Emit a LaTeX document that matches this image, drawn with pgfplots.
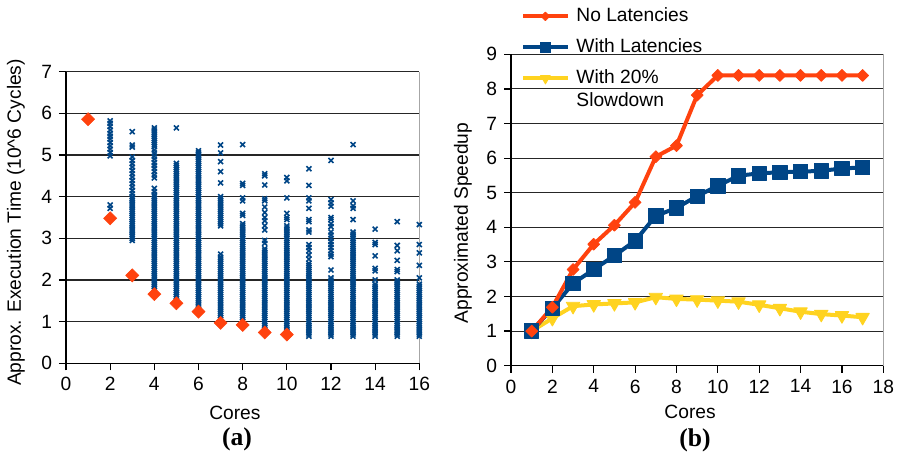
\documentclass[border=0pt]{standalone}
\usepackage{pgfplots}
\pgfplotsset{compat=1.18}
\usepackage{fontspec}
\setmainfont{Liberation Sans}
\newfontfamily\serifbf{Liberation Serif}
\definecolor{cOrange}{HTML}{FF420E}
\definecolor{cBlue}{HTML}{004586}
\definecolor{cYellow}{HTML}{FFD320}
\pgfplotsset{
  mystyle/.style={
    scale only axis,
    anchor=south west,
    font=\fontsize{9.6}{11}\selectfont,
    /pgf/number format/assume math mode=true,
    axis lines*=left,
    axis line style={black, line width=0.6pt, -},
    tick align=outside,
    major tick length=3.5pt,
    tick style={black, line width=0.6pt},
    xtick pos=bottom, ytick pos=left,
    ymajorgrids,
    major grid style={black!85, line width=0.55pt},
    extra x tick labels={},
    extra x tick style={xmajorgrids=true, major tick length=0pt, major grid style={black!35, line width=0.6pt}},
  },
  scat/.style={only marks, mark=x, mark size=1.75pt, color=cBlue, mark options={line width=0.8pt}},
}
\begin{document}
\begin{tikzpicture}
\path[use as bounding box] (0,0) rectangle (450pt,226.5pt);
\begin{axis}[mystyle, at={(33pt,44.85pt)}, width=176.65pt, height=145.8pt,
  xmin=0, xmax=16, ymin=0, ymax=7, xtick={0,2,...,16}, ytick={0,...,7}, extra x ticks={16},
  xlabel={Cores}, ylabel={Approx. Execution Time (10\textasciicircum 6 Cycles)},
  xlabel style={at={(axis description cs:0.478,0)}, anchor=center, yshift=-24.85pt},
  ylabel style={at={(axis description cs:-0.142,0.483)}, anchor=center}]
\addplot[scat] coordinates {(2,5.82)(2,5.76)(2,5.68)(2,5.6)(2,5.52)(2,5.45)(2,5.38)(2,5.3)(2,5.22)(2,5.14)(2,5.06)(2,4.98)(2,3.8)(2,3.72)};
\addplot[scat] coordinates {(3,5.56)(3,5.24)(3,5.19)(3,4.95)(3,4.87)(3,4.79)(3,4.71)(3,4.63)(3,4.55)(3,4.47)(3,4.39)(3,4.31)(3,4.23)(3,4.15)(3,4.07)(3,4.0)
(3,3.95)(3,3.90)(3,3.85)(3,3.80)(3,3.75)(3,3.70)(3,3.65)(3,3.60)(3,3.55)(3,3.50)(3,3.45)(3,3.40)(3,3.35)(3,3.30)(3,3.25)(3,3.20)(3,3.15)(3,3.10)(3,3.05)(3,3.00)(3,2.95)};
\addplot[scat] coordinates {(4,5.65)(4,5.6)(4,5.55)(4,5.5)(4,5.45)(4,5.4)(4,5.35)(4,5.3)(4,5.25)(4,5.2)(4,5.12)(4,5.05)(4,4.97)(4,4.9)(4,4.82)(4,4.75)(4,4.68)(4,4.6)(4,4.52)(4,4.45)(4,4.2)(4,4.12)
(4,4.05)(4,4.00)(4,3.95)(4,3.90)(4,3.85)(4,3.80)(4,3.75)(4,3.70)(4,3.65)(4,3.60)(4,3.55)(4,3.50)(4,3.45)(4,3.40)(4,3.35)(4,3.30)(4,3.25)(4,3.20)(4,3.15)(4,3.10)(4,3.05)(4,3.00)(4,2.95)(4,2.90)(4,2.85)(4,2.80)(4,2.75)(4,2.70)(4,2.65)(4,2.60)(4,2.55)(4,2.50)(4,2.45)(4,2.40)(4,2.35)(4,2.30)(4,2.25)(4,2.20)(4,2.15)(4,2.10)(4,2.05)(4,2.00)(4,1.95)(4,1.90)(4,1.85)(4,1.80)(4,1.75)};
\addplot[scat] coordinates {(5,5.65)
(5,4.80)(5,4.75)(5,4.70)(5,4.65)(5,4.60)(5,4.55)(5,4.50)(5,4.45)(5,4.40)(5,4.35)(5,4.30)(5,4.25)(5,4.20)(5,4.15)(5,4.10)(5,4.05)(5,4.00)(5,3.95)(5,3.90)(5,3.85)(5,3.80)(5,3.75)(5,3.70)(5,3.65)(5,3.60)(5,3.55)(5,3.50)(5,3.45)(5,3.40)(5,3.35)(5,3.30)(5,3.25)(5,3.20)(5,3.15)(5,3.10)(5,3.05)(5,3.00)(5,2.95)(5,2.90)(5,2.85)(5,2.80)(5,2.75)(5,2.70)(5,2.65)(5,2.60)(5,2.55)(5,2.50)(5,2.45)(5,2.40)(5,2.35)(5,2.30)(5,2.25)(5,2.20)(5,2.15)(5,2.10)(5,2.05)(5,2.00)(5,1.95)(5,1.90)(5,1.85)(5,1.80)(5,1.75)(5,1.70)(5,1.65)(5,1.60)(5,1.55)(5,1.50)};
\addplot[scat] coordinates {(6,5.10)(6,5.05)(6,5.00)(6,4.95)(6,4.90)(6,4.85)(6,4.80)(6,4.75)(6,4.70)(6,4.65)(6,4.60)(6,4.55)(6,4.50)(6,4.45)(6,4.40)(6,4.35)(6,4.30)(6,4.25)(6,4.20)(6,4.15)(6,4.10)(6,4.05)(6,4.00)(6,3.95)(6,3.90)(6,3.85)(6,3.80)(6,3.75)(6,3.70)(6,3.65)(6,3.60)(6,3.55)(6,3.50)(6,3.45)(6,3.40)(6,3.35)(6,3.30)(6,3.25)(6,3.20)(6,3.15)(6,3.10)(6,3.05)(6,3.00)(6,2.95)(6,2.90)(6,2.85)(6,2.80)(6,2.75)(6,2.70)(6,2.65)(6,2.60)(6,2.55)(6,2.50)(6,2.45)(6,2.40)(6,2.35)(6,2.30)(6,2.25)(6,2.20)(6,2.15)(6,2.10)(6,2.05)(6,2.00)(6,1.95)(6,1.90)(6,1.85)(6,1.80)(6,1.75)(6,1.70)(6,1.65)(6,1.60)(6,1.55)(6,1.50)(6,1.45)(6,1.40)(6,1.35)(6,1.30)(6,1.25)};
\addplot[scat] coordinates {(7,5.24)(7,5.05)(7,4.84)(7,4.6)(7,4.33)
(7,4.00)(7,3.95)(7,3.90)(7,3.85)(7,3.80)(7,3.75)(7,3.70)(7,3.65)(7,3.60)(7,3.55)(7,3.50)(7,3.45)(7,3.40)(7,3.35)(7,3.30)(7,2.62)
(7,2.55)(7,2.50)(7,2.45)(7,2.40)(7,2.35)(7,2.30)(7,2.25)(7,2.20)(7,2.15)(7,2.10)(7,2.05)(7,2.00)(7,1.95)(7,1.90)(7,1.85)(7,1.80)(7,1.75)(7,1.70)(7,1.65)(7,1.60)(7,1.55)(7,1.50)(7,1.45)(7,1.40)(7,1.35)(7,1.30)(7,1.25)(7,1.20)(7,1.15)(7,1.10)(7,1.05)(7,1.00)};
\addplot[scat] coordinates {(8,5.25)(8,4.32)(8,4.27)(8,3.97)(8,3.9)(8,3.6)(8,3.55)
(8,3.35)(8,3.30)(8,3.25)(8,3.20)(8,3.15)(8,3.10)(8,3.05)(8,3.00)(8,2.95)(8,2.90)(8,2.85)(8,2.80)(8,2.75)(8,2.70)(8,2.65)(8,2.60)(8,2.55)(8,2.50)(8,2.45)(8,2.40)(8,2.35)(8,2.30)(8,2.25)(8,2.20)(8,2.15)(8,2.10)(8,2.05)(8,2.00)(8,1.95)(8,1.90)(8,1.85)(8,1.80)(8,1.75)(8,1.70)(8,1.65)(8,1.60)(8,1.55)(8,1.50)(8,1.45)(8,1.40)(8,1.35)(8,1.30)(8,1.25)(8,1.20)(8,1.15)(8,1.10)(8,1.05)(8,1.00)(8,0.95)};
\addplot[scat] coordinates {(9,4.55)(9,4.5)(9,4.28)(9,3.95)(9,3.9)(9,3.75)(9,3.62)(9,3.5)(9,3.42)(9,3.3)(9,3.2)(9,2.95)(9,2.88)
(9,2.75)(9,2.70)(9,2.65)(9,2.60)(9,2.55)(9,2.50)(9,2.45)(9,2.40)(9,2.35)(9,2.30)(9,2.25)(9,2.20)(9,2.15)(9,2.10)(9,2.05)(9,2.00)(9,1.95)(9,1.90)(9,1.85)(9,1.80)(9,1.75)(9,1.70)(9,1.65)(9,1.60)(9,1.55)(9,1.50)(9,1.45)(9,1.40)(9,1.35)(9,1.30)(9,1.25)(9,1.20)(9,1.15)(9,1.10)(9,1.05)(9,1.00)(9,0.95)(9,0.90)(9,0.85)(9,0.80)};
\addplot[scat] coordinates {(10,4.46)(10,4.38)(10,3.97)(10,3.6)(10,3.5)(10,3.45)
(10,3.30)(10,3.25)(10,3.20)(10,3.15)(10,3.10)(10,3.05)(10,3.00)(10,2.95)(10,2.90)(10,2.85)(10,2.80)(10,2.75)(10,2.70)(10,2.65)(10,2.60)(10,2.55)(10,2.50)(10,2.45)(10,2.40)(10,2.35)(10,2.30)(10,2.25)(10,2.20)(10,2.15)(10,2.10)(10,2.05)(10,2.00)(10,1.95)(10,1.90)(10,1.85)(10,1.80)(10,1.75)(10,1.70)(10,1.65)(10,1.60)(10,1.55)(10,1.50)(10,1.45)(10,1.40)(10,1.35)(10,1.30)(10,1.25)(10,1.20)(10,1.15)(10,1.10)(10,1.05)(10,1.00)(10,0.95)(10,0.90)(10,0.85)(10,0.80)(10,0.75)};
\addplot[scat] coordinates {(11,4.67)(11,4.27)(11,3.97)(11,3.9)(11,3.72)(11,3.45)(11,3.4)(11,3.2)(11,3.15)(11,2.85)(11,2.78)(11,2.7)(11,2.6)(11,2.5)
(11,2.40)(11,2.35)(11,2.30)(11,2.25)(11,2.20)(11,2.15)(11,2.10)(11,2.05)(11,2.00)(11,1.95)(11,1.90)(11,1.85)(11,1.80)(11,1.75)(11,1.70)(11,1.65)(11,1.60)(11,1.55)(11,1.50)(11,1.45)(11,1.40)(11,1.35)(11,1.30)(11,1.25)(11,1.20)(11,1.15)(11,1.10)(11,1.05)(11,1.00)(11,0.95)(11,0.90)(11,0.85)(11,0.80)(11,0.75)(11,0.70)(11,0.65)};
\addplot[scat] coordinates {(12,4.87)(12,3.93)(12,3.85)(12,3.77)(12,3.5)(12,3.45)(12,3.35)(12,3.28)(12,3.15)(12,3.08)(12,3.0)(12,2.92)(12,2.85)(12,2.78)(12,2.7)(12,2.62)(12,2.56)(12,2.24)
(12,2.05)(12,2.00)(12,1.95)(12,1.90)(12,1.85)(12,1.80)(12,1.75)(12,1.70)(12,1.65)(12,1.60)(12,1.55)(12,1.50)(12,1.45)(12,1.40)(12,1.35)(12,1.30)(12,1.25)(12,1.20)(12,1.15)(12,1.10)(12,1.05)(12,1.00)(12,0.95)(12,0.90)(12,0.85)(12,0.80)(12,0.75)(12,0.70)(12,0.65)};
\addplot[scat] coordinates {(13,5.25)(13,3.9)(13,3.78)(13,3.72)(13,3.45)
(13,3.15)(13,3.10)(13,3.05)(13,3.00)(13,2.95)(13,2.90)(13,2.85)(13,2.80)(13,2.75)(13,2.70)(13,2.65)(13,2.60)(13,2.55)(13,2.50)(13,2.45)(13,2.40)(13,2.35)(13,2.30)(13,2.25)(13,2.20)(13,2.15)(13,2.10)(13,2.05)(13,2.00)(13,1.95)(13,1.90)(13,1.85)(13,1.80)(13,1.75)(13,1.70)(13,1.65)(13,1.60)(13,1.55)(13,1.50)(13,1.45)(13,1.40)(13,1.35)(13,1.30)(13,1.25)(13,1.20)(13,1.15)(13,1.10)(13,1.05)(13,1.00)(13,0.95)(13,0.90)(13,0.85)(13,0.80)(13,0.75)(13,0.70)(13,0.65)};
\addplot[scat] coordinates {(14,3.22)(14,2.9)(14,2.85)(14,2.58)(14,2.28)(14,2.22)(14,2.0)
(14,1.90)(14,1.85)(14,1.80)(14,1.75)(14,1.70)(14,1.65)(14,1.60)(14,1.55)(14,1.50)(14,1.45)(14,1.40)(14,1.35)(14,1.30)(14,1.25)(14,1.20)(14,1.15)(14,1.10)(14,1.05)(14,1.00)(14,0.95)(14,0.90)(14,0.85)(14,0.80)(14,0.75)(14,0.70)(14,0.65)};
\addplot[scat] coordinates {(15,3.4)(15,2.83)(15,2.7)(15,2.47)(15,2.25)(15,2.2)
(15,2.00)(15,1.95)(15,1.90)(15,1.85)(15,1.80)(15,1.75)(15,1.70)(15,1.65)(15,1.60)(15,1.55)(15,1.50)(15,1.45)(15,1.40)(15,1.35)(15,1.30)(15,1.25)(15,1.20)(15,1.15)(15,1.10)(15,1.05)(15,1.00)(15,0.95)(15,0.90)(15,0.85)(15,0.80)(15,0.75)(15,0.70)(15,0.65)};
\addplot[scat] coordinates {(16,3.33)(16,2.85)(16,2.65)(16,2.35)(16,2.05)
(16,1.90)(16,1.85)(16,1.80)(16,1.75)(16,1.70)(16,1.65)(16,1.60)(16,1.55)(16,1.50)(16,1.45)(16,1.40)(16,1.35)(16,1.30)(16,1.25)(16,1.20)(16,1.15)(16,1.10)(16,1.05)(16,1.00)(16,0.95)(16,0.90)(16,0.85)(16,0.80)(16,0.75)(16,0.70)(16,0.65)};
\addplot[only marks, mark=square*, mark size=2.3pt, color=cOrange, mark options={rotate=45, line width=0.3pt}] coordinates {
(1,5.86)(2,3.48)(3,2.11)(4,1.66)(5,1.44)(6,1.24)(7,0.97)(8,0.92)(9,0.74)(10,0.69)};
\end{axis}
\begin{axis}[mystyle, at={(255.5pt,43.65pt)}, width=186.15pt, height=155.7pt,
  xmin=0, xmax=18, ymin=0, ymax=9, xtick={0,2,...,18}, ytick={0,...,9}, extra x ticks={18},
  xlabel={Cores}, ylabel={Approximated Speedup},
  xlabel style={at={(axis description cs:0.481,0)}, anchor=center, yshift=-23.15pt},
  ylabel style={at={(axis description cs:-0.129,0.458)}, anchor=center},
  reverse legend,
  legend style={at={(axis description cs:0.027,1.152)}, anchor=north west, draw=none, fill=none,
    inner sep=0pt, row sep=6.5pt, column sep=3pt, font=\fontsize{9.6}{11.5}\selectfont,
    cells={anchor=west}, nodes={inner sep=0pt, text height=7pt, text depth=2pt}},
  legend image code/.code={\draw[mark repeat=2, mark phase=2, #1, every mark/.append style={scale=0.72}] plot coordinates {(0pt,0pt) (11pt,0pt) (22.5pt,0pt)};},
  line join=round]
\addplot[cYellow, line width=2pt, mark=triangle*, mark size=3.9pt, mark options={rotate=180, line width=0.4pt}] coordinates {
(1,1.0)(2,1.37)(3,1.72)(4,1.77)(5,1.8)(6,1.83)(7,1.98)(8,1.93)(9,1.91)(10,1.88)(11,1.85)(12,1.76)(13,1.66)(14,1.56)(15,1.49)(16,1.45)(17,1.4)};
\addlegendentry{\begin{tabular}[t]{@{}l@{}}With 20\%\\Slowdown\end{tabular}}
\addplot[cBlue, line width=2pt, mark=square*, mark size=3.6pt, mark options={line width=0.4pt}] coordinates {
(1,1.0)(2,1.66)(3,2.38)(4,2.78)(5,3.18)(6,3.61)(7,4.33)(8,4.56)(9,4.9)(10,5.2)(11,5.49)(12,5.56)(13,5.59)(14,5.61)(15,5.63)(16,5.7)(17,5.73)};
\addlegendentry{With Latencies}
\addplot[cOrange, line width=2pt, mark=square*, mark size=2.1pt, mark options={rotate=45, line width=0.4pt}] coordinates {
(1,1.0)(2,1.69)(3,2.78)(4,3.51)(5,4.06)(6,4.72)(7,6.04)(8,6.36)(9,7.82)(10,8.39)(11,8.39)(12,8.39)(13,8.39)(14,8.39)(15,8.39)(16,8.39)(17,8.39)};
\addlegendentry{No Latencies}
\end{axis}
\node[font=\serifbf\bfseries\fontsize{12.8}{14}\selectfont] at (118.5pt,7pt) {(a)};
\node[font=\serifbf\bfseries\fontsize{12.8}{14}\selectfont] at (347.5pt,6.5pt) {(b)};
\end{tikzpicture}
\end{document}
